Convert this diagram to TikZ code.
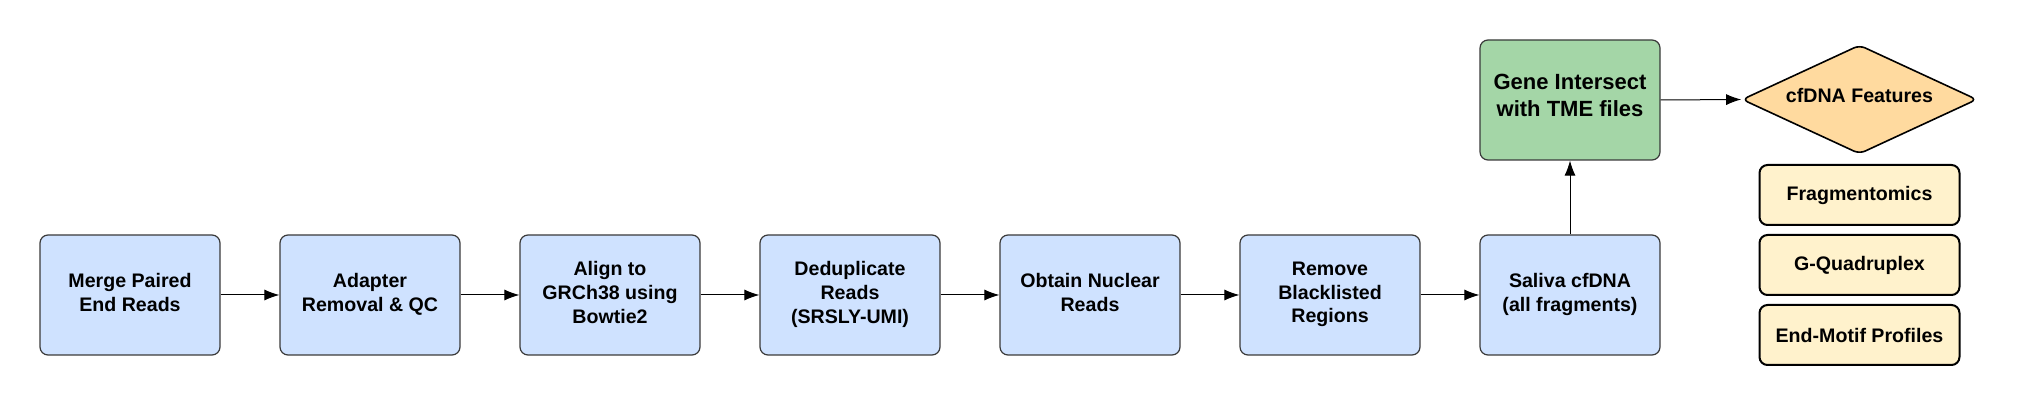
\documentclass[tikz,border=0pt]{standalone}
\usepackage{fontspec}
\setmainfont{Liberation Sans}
\usetikzlibrary{arrows.meta,shapes.geometric}
\definecolor{stepblue}{HTML}{CFE2FF}
\definecolor{stepgreen}{HTML}{A4D6A7}
\definecolor{featorange}{HTML}{FFDA9F}
\definecolor{featcream}{HTML}{FFF2CC}
\definecolor{edgegray}{HTML}{3A3A3A}
\tikzset{
  stepbox/.style={draw=edgegray, line width=0.6pt, fill=stepblue, rounded corners=4pt,
    minimum width=90pt, minimum height=60pt, inner sep=0pt, align=center, text depth=2.5pt,
    font=\fontsize{9.8}{11.8}\selectfont\bfseries},
  greenbox/.style={stepbox, fill=stepgreen, text depth=4.5pt, font=\fontsize{11}{13.4}\selectfont\bfseries},
  featdiamond/.style={diamond, draw=black, line width=0.8pt, fill=featorange, rounded corners=3pt,
    minimum width=117.5pt, minimum height=54.5pt, inner sep=0pt, aspect=2.16, text depth=4pt,
    font=\fontsize{9.8}{11.8}\selectfont\bfseries},
  featbox/.style={draw=black, line width=1pt, fill=featcream, rounded corners=4pt,
    minimum width=100pt, minimum height=30pt, inner sep=0pt, align=center,
    font=\fontsize{9.8}{11.8}\selectfont\bfseries},
  flow/.style={draw=black, line width=0.5pt, -{Latex[length=7.5pt,width=5.5pt]}}
}
\begin{document}
\begin{tikzpicture}[x=0.5pt,y=-0.5pt]
\useasboundingbox (0,0) rectangle (2020,405);
\node[stepbox] (s1) at (130,295) {Merge Paired\\End Reads};
\node[stepbox] (s2) at (370,295) {Adapter\\Removal \& QC};
\node[stepbox] (s3) at (610,295) {Align to\\GRCh38 using\\Bowtie2};
\node[stepbox] (s4) at (850,295) {Deduplicate\\Reads\\(SRSLY-UMI)};
\node[stepbox] (s5) at (1090,295) {Obtain Nuclear\\Reads};
\node[stepbox] (s6) at (1330,295) {Remove\\Blacklisted\\Regions};
\node[stepbox] (s7) at (1570,295) {Saliva cfDNA\\(all fragments)};
\node[greenbox] (g) at (1570,100) {Gene Intersect\\with TME files};
\node[featdiamond] (d) at (1859.5,99.5) {cfDNA Features};
\node[featbox] (f1) at (1859.5,195) {Fragmentomics};
\node[featbox] (f2) at (1859.5,265) {G-Quadruplex};
\node[featbox] (f3) at (1859.5,335) {End-Motif Profiles};
\draw[flow] (s1) -- (s2);
\draw[flow] (s2) -- (s3);
\draw[flow] (s3) -- (s4);
\draw[flow] (s4) -- (s5);
\draw[flow] (s5) -- (s6);
\draw[flow] (s6) -- (s7);
\draw[flow] (s7) -- (g);
\draw[flow] (g.east) -- (d.west);
\end{tikzpicture}
\end{document}
